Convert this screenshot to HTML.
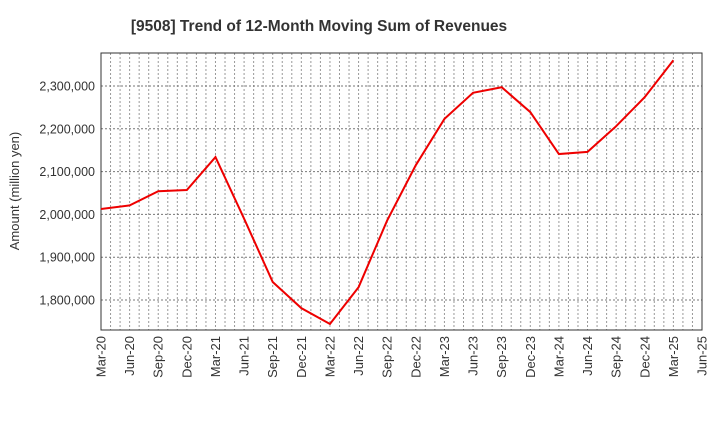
<!DOCTYPE html>
<html><head><meta charset="utf-8"><style>
body{margin:0;background:#fff;font-family:"Liberation Sans",sans-serif;}
</style></head><body>
<svg id="c" width="720" height="440" xmlns="http://www.w3.org/2000/svg">
<text x="319" y="31" text-anchor="middle" font-size="15.5" font-weight="bold" fill="#333">[9508]  Trend of 12-Month Moving Sum of Revenues</text>
<text transform="translate(19,191) rotate(-90)" text-anchor="middle" font-size="13" fill="#333">Amount (million yen)</text>
<g id="grid"></g><g id="axes"></g><g id="series"></g>
</svg>
<script>
const categories=["Mar-20","Jun-20","Sep-20","Dec-20","Mar-21","Jun-21","Sep-21","Dec-21","Mar-22","Jun-22","Sep-22","Dec-22","Mar-23","Jun-23","Sep-23","Dec-23","Mar-24","Jun-24","Sep-24","Dec-24","Mar-25","Jun-25"];
const revenues=[2012600,2021000,2054000,2057000,2134000,1990000,1842000,1781000,1744000,1830000,1986000,2115000,2223000,2284000,2297000,2239000,2141000,2146000,2206000,2274000,2360000];
const yTicks=[1800000,1900000,2000000,2100000,2200000,2300000];
const L=101,R=702,T=53,B=330,yMin=1730000,yMax=2377000;
const NS="http://www.w3.org/2000/svg";
const x=i=>L+(R-L)*i/(categories.length-1);
const y=v=>B-(v-yMin)/(yMax-yMin)*(B-T);
function mk(p,t,a){const e=document.createElementNS(NS,t);for(const k in a)e.setAttribute(k,a[k]);p.appendChild(e);return e;}
const g=document.getElementById('grid'),ax=document.getElementById('axes'),s=document.getElementById('series');
const months=(categories.length-1)*3;
for(let m=1;m<months;m++){const xx=L+(R-L)*m/months;
const ln=mk(g,'line',{x1:xx,x2:xx,y1:T,y2:B,stroke:'#999','stroke-width':1,'stroke-dasharray':'2,2'});

}
yTicks.forEach(v=>{const ln=mk(g,'line',{x1:L,x2:R,y1:y(v),y2:y(v),stroke:'#777','stroke-width':1,'stroke-dasharray':'2,2'});


const t=mk(ax,'text',{x:L-6,y:y(v)+4.5,'text-anchor':'end','font-size':12.5,fill:'#333'});t.textContent=v.toLocaleString('en-US');

});
categories.forEach((c,i)=>{const t=mk(ax,'text',{transform:`translate(${x(i)+4.5},${B+6}) rotate(-90)`,'text-anchor':'end','font-size':13,fill:'#333'});t.textContent=c;

});
const fr=mk(ax,'rect',{x:L,y:T,width:R-L,height:B-T,fill:'none',stroke:'#333','stroke-width':1});


const pl=mk(s,'polyline',{points:revenues.map((v,i)=>x(i)+','+y(v)).join(' '),fill:'none',stroke:'#e00','stroke-width':2});


</script>
</body></html>
